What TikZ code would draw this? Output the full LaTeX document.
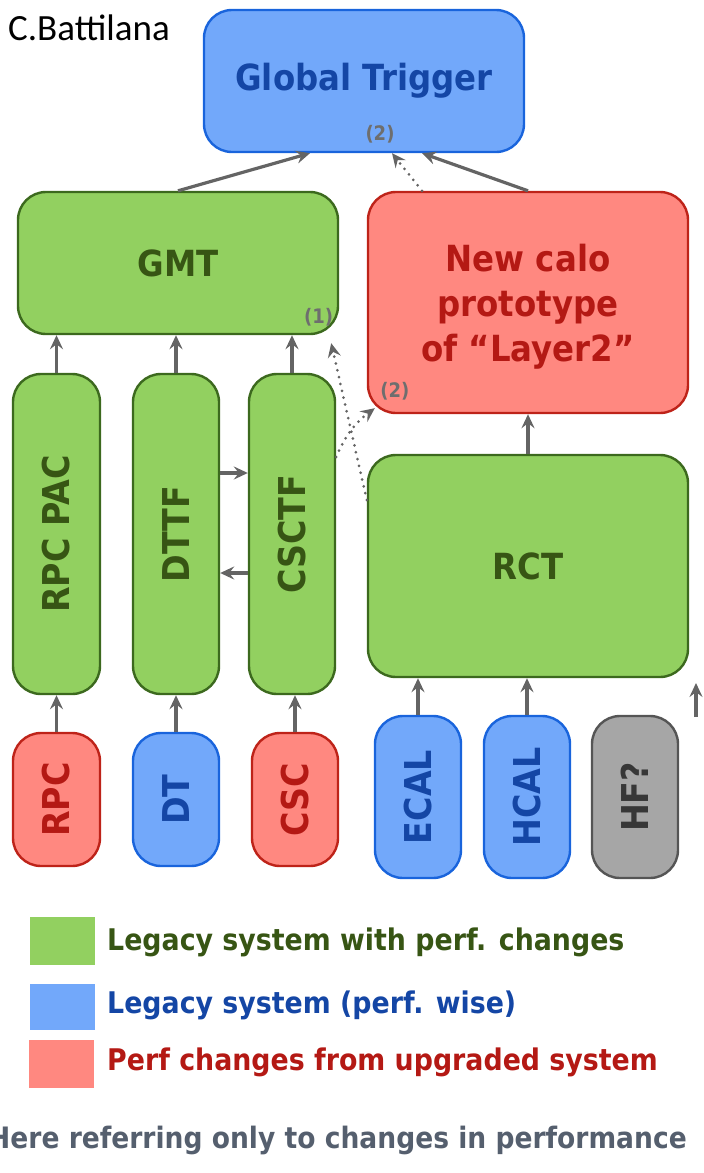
\documentclass[tikz,border=0pt]{standalone}
\usepackage{fontspec}
\setmainfont{DejaVu Sans}
\newfontfamily\boxfont[FakeStretch=0.9]{DejaVu Sans}
\newfontfamily\namefont{Carlito}
\usetikzlibrary{arrows.meta, positioning}

\definecolor{greenfill}{RGB}{146,208,96}
\definecolor{greenline}{RGB}{60,105,30}
\definecolor{greentext}{RGB}{55,85,20}
\definecolor{bluefill}{RGB}{114,168,250}
\definecolor{blueline}{RGB}{25,100,220}
\definecolor{bluetext}{RGB}{20,70,165}
\definecolor{redfill}{RGB}{255,136,128}
\definecolor{redline}{RGB}{190,35,25}
\definecolor{redtext}{RGB}{180,25,20}
\definecolor{grayfill}{RGB}{166,166,166}
\definecolor{grayline}{RGB}{85,85,85}
\definecolor{graytext}{RGB}{55,55,55}
\definecolor{tagtext}{RGB}{110,110,110}
\definecolor{arrowgray}{RGB}{100,100,100}
\definecolor{notetext}{RGB}{85,95,110}

\newcommand{\vtext}[1]{\rotatebox{90}{\fontsize{37}{40}\selectfont #1}}

\begin{document}
\begin{tikzpicture}[x=1pt, y=-1pt,
		unit/.style={rectangle, rounded corners=28pt, line width=2.4pt, inner sep=0pt, align=center,
			font=\boxfont\bfseries\fontsize{36}{45}\selectfont},
		greenunit/.style={unit, fill=greenfill, draw=greenline, text=greentext},
		blueunit/.style={unit, fill=bluefill, draw=blueline, text=bluetext},
		redunit/.style={unit, fill=redfill, draw=redline, text=redtext},
		grayunit/.style={unit, fill=grayfill, draw=grayline, text=graytext},
		tag/.style={text=tagtext, inner sep=0pt, font=\boxfont\bfseries\fontsize{20}{22}\selectfont},
		arr/.style={-{Stealth[length=14pt, width=13pt, inset=5pt]}, line width=3.2pt, draw=arrowgray},
		dotarr/.style={arr, line width=3pt, line cap=round, dash pattern=on 0pt off 7pt},
		keybox/.style={rectangle, inner sep=0pt, minimum width=65pt},
		keytext/.style={anchor=west, inner sep=0pt, font=\boxfont\bfseries\fontsize{29.8}{34}\selectfont}
		]
		\useasboundingbox (0,0) rectangle (704,1173);
		\clip (0,0) rectangle (704,1173);
		% Author
		\node[anchor=west, inner sep=0pt, font=\namefont\fontsize{37}{40}\selectfont] (author) at (8,28) {C.Battilana};
		% Top level
		\node[blueunit, minimum width=320pt, minimum height=142pt] (gt) at (364,81) {Global Trigger};
		\node[tag] (tag2gt) at ([xshift=16pt, yshift=19pt]gt.south) {(2)};
		% Second level
		\node[greenunit, minimum width=320pt, minimum height=142pt] (gmt) at (178,263) {GMT};
		\node[tag, anchor=south east] (tag1) at ([xshift=-6pt, yshift=9pt]gmt.south east) {(1)};
		\node[redunit, minimum width=320pt, minimum height=221pt, text depth=-5pt] (calo) at (528,302.5) {New calo\\prototype\\of “Layer2”};
		\node[tag] (tag2calo) at ([xshift=28pt, yshift=23pt]calo.south west) {(2)};
		% Track finders and RCT
		\node[greenunit, minimum width=87pt, minimum height=320pt] (rpcpac) at (56.5,534) {\vtext{RPC PAC}};
		\node[greenunit, minimum width=86pt, minimum height=320pt] (dttf) at (176,534) {\vtext{DTTF}};
		\node[greenunit, minimum width=86pt, minimum height=320pt] (csctf) at (292,534) {\vtext{CSCTF}};
		\node[greenunit, minimum width=320pt, minimum height=222pt] (rct) at (528,566) {RCT};
		% Detectors
		\node[redunit, minimum width=87pt, minimum height=133pt] (rpc) at (56.5,799.5) {\vtext{RPC}};
		\node[blueunit, minimum width=86pt, minimum height=133pt] (dt) at (176,799.5) {\vtext{DT}};
		\node[redunit, minimum width=86pt, minimum height=133pt] (csc) at (295,799.5) {\vtext{CSC}};
		\node[blueunit, minimum width=86pt, minimum height=162pt] (ecal) at (418,797) {\vtext{ECAL}};
		\node[blueunit, minimum width=86pt, minimum height=162pt] (hcal) at (527,797) {\vtext{HCAL}};
		\node[grayunit, minimum width=86pt, minimum height=162pt] (hf) at (635,797) {\vtext{HF?}};
		\coordinate (hfin) at (696,717);
		\coordinate (hfout) at (696,683);
		% Connections
		\foreach \a/\b in {rpc/rpcpac, dt/dttf, csc/csctf, ecal/rct, hcal/rct} {
			\draw[arr] (\a.north) -- (\a.north |- \b.south);
		}
		\foreach \a in {rpcpac, dttf, csctf} {
			\draw[arr] (\a.north) -- (\a.north |- gmt.south);
		}
		\draw[arr] ([yshift=61pt]dttf.east) -- ([yshift=61pt]dttf.east -| csctf.west);
		\draw[arr] ([yshift=-39pt]csctf.west) -- ([yshift=-39pt]csctf.west -| dttf.east);
		\draw[arr] (rct.north) -- (calo.south);
		\draw[arr] (hfin) -- (hfout);
		\draw[arr] (gmt.north) -- ([xshift=-54pt]gt.south);
		\draw[arr] (calo.north) -- ([xshift=58pt]gt.south);
		\draw[dotarr] ([xshift=-106pt]calo.north) -- ([xshift=28pt]gt.south);
		\draw[dotarr] ([yshift=66pt]rct.west) -- ([xshift=-8pt, yshift=-8pt]gmt.south east);
		\draw[dotarr] ([yshift=77pt]csctf.east) to[bend left=15] ([xshift=8pt, yshift=6pt]calo.south west);
		% Legend
		\node[keybox, fill=greenfill, minimum height=48pt] (keygreen) at (62.5,941) {};
		\node[keybox, fill=bluefill, minimum height=46pt] (keyblue) at (62.5,1007) {};
		\node[keybox, fill=redfill, minimum height=48pt] (keyred) at (61.5,1064) {};
		\node[keytext, text=greentext] (txtgreen) at (107,942) {Legacy system with perf. changes};
		\node[keytext, text=bluetext] (txtblue) at (107,1005) {Legacy system (perf. wise)};
		\node[keytext, text=redtext] (txtred) at (107,1062) {Perf changes from upgraded system};
		\node[keytext, text=notetext, font=\boxfont\bfseries\fontsize{29.5}{34}\selectfont] (note) at (-12,1140) {Here referring only to changes in performance};
	\end{tikzpicture}
\end{document}
